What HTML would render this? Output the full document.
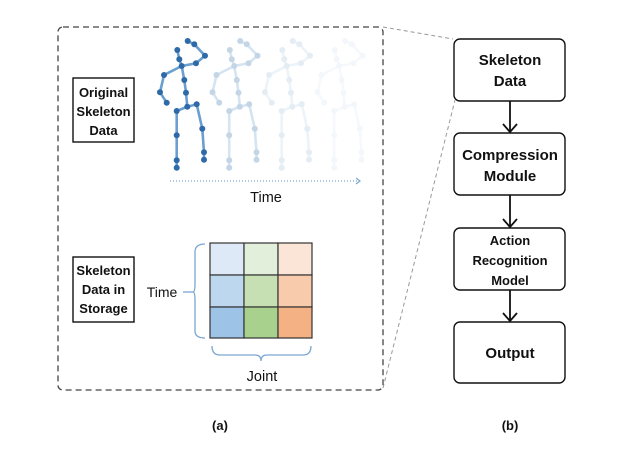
<!DOCTYPE html>
<html><head><meta charset="utf-8"><style>
body{margin:0;background:#fff;}
svg{display:block;font-family:"Liberation Sans",sans-serif;}
.b{font-weight:bold;fill:#111;}
</style></head><body>
<svg width="619" height="460" viewBox="0 0 619 460" xmlns="http://www.w3.org/2000/svg">
<defs>
<g id="sk">
<g stroke-width="2.6" stroke-linecap="round" fill="none">
<polyline points="187.7,41 194.3,44.3 205,55.7 196,63.3 181.7,66"/>
<polyline points="177.3,50 179.3,59.3 181.7,66 164,75 160,92.3 166.7,102.7"/>
<polyline points="181.7,66 184.3,80 186,92.7 187.3,106.7 196.7,104.3 202.3,128.7 204,152.3 204,159.7"/>
<polyline points="187.3,106.7 176.7,111 176.7,135.3 176.7,160.3 176.7,167.7"/>
</g>
<g stroke="none">
<circle cx="187.7" cy="41" r="3"/><circle cx="194.3" cy="44.3" r="3"/><circle cx="205" cy="55.7" r="3"/><circle cx="196" cy="63.3" r="3"/><circle cx="181.7" cy="66" r="3"/><circle cx="177.3" cy="50" r="3"/><circle cx="179.3" cy="59.3" r="3"/><circle cx="164" cy="75" r="3"/><circle cx="160" cy="92.3" r="3"/><circle cx="166.7" cy="102.7" r="3"/><circle cx="184.3" cy="80" r="3"/><circle cx="186" cy="92.7" r="3"/><circle cx="187.3" cy="106.7" r="3"/><circle cx="196.7" cy="104.3" r="3"/><circle cx="202.3" cy="128.7" r="3"/><circle cx="204" cy="152.3" r="3"/><circle cx="204" cy="159.7" r="3"/><circle cx="176.7" cy="111" r="3"/><circle cx="176.7" cy="135.3" r="3"/><circle cx="176.7" cy="160.3" r="3"/><circle cx="176.7" cy="167.7" r="3"/>
</g>
</g>
</defs>
<rect x="58" y="27" width="325" height="363" rx="5" fill="none" stroke="#444" stroke-width="1.3" stroke-dasharray="6,4"/>
<line x1="383" y1="27" x2="453" y2="39" stroke="#999" stroke-dasharray="4,3"/>
<line x1="383" y1="388" x2="455" y2="100" stroke="#999" stroke-dasharray="4,3"/>
<g stroke="#6a9fd0" fill="#2e6aa8"><use href="#sk"/></g>
<g stroke="#6a9fd0" fill="#2e6aa8" opacity="0.28" transform="translate(52.5,0)"><use href="#sk"/></g>
<g stroke="#6a9fd0" fill="#2e6aa8" opacity="0.12" transform="translate(105,0)"><use href="#sk"/></g>
<g stroke="#6a9fd0" fill="#2e6aa8" opacity="0.05" transform="translate(157.5,0)"><use href="#sk"/></g>
<line x1="170" y1="181" x2="358" y2="181" stroke="#7aa6d2" stroke-width="1.2" stroke-dasharray="1,2"/>
<polyline points="356,178 360,181 356,184" fill="none" stroke="#7aa6d2" stroke-width="1.2"/>
<text x="266" y="202" font-size="14.5" text-anchor="middle" fill="#111">Time</text>
<rect x="73" y="78" width="61" height="64" fill="#fff" stroke="#111" stroke-width="1.4"/>
<text class="b" font-size="13" text-anchor="middle"><tspan x="103.5" y="97">Original</tspan><tspan x="103.5" y="116">Skeleton</tspan><tspan x="103.5" y="135">Data</tspan></text>
<rect x="73" y="257" width="61" height="65" fill="#fff" stroke="#111" stroke-width="1.4"/>
<text class="b" font-size="13" text-anchor="middle"><tspan x="103.5" y="275">Skeleton</tspan><tspan x="103.5" y="294">Data in</tspan><tspan x="103.5" y="313">Storage</tspan></text>
<text x="162" y="297" font-size="14" text-anchor="middle" fill="#111">Time</text>
<line x1="183" y1="292" x2="193" y2="292" stroke="#7aa6d2" stroke-width="1.3"/>
<path d="M205,244 Q195,244 195,252 L195,284 Q195,292 193,292 Q195,292 195,300 L195,331 Q195,338 205,338" fill="none" stroke="#7aa6d2" stroke-width="1.3"/>
<path d="M212,346 Q212,355 220,355 L255,355 Q261,355 261,361 Q261,355 267,355 L303,355 Q311,355 311,346" fill="none" stroke="#7aa6d2" stroke-width="1.3"/>
<text x="262" y="381" font-size="14.5" text-anchor="middle" fill="#111">Joint</text>
<g stroke="#333" stroke-width="1.2">
<rect x="210" y="243" width="34" height="32" fill="#dde9f6"/><rect x="244" y="243" width="34" height="32" fill="#e2efda"/><rect x="278" y="243" width="34" height="32" fill="#fbe5d6"/>
<rect x="210" y="275" width="34" height="32" fill="#bdd7ee"/><rect x="244" y="275" width="34" height="32" fill="#c6e0b4"/><rect x="278" y="275" width="34" height="32" fill="#f8cbad"/>
<rect x="210" y="307" width="34" height="31" fill="#9dc3e6"/><rect x="244" y="307" width="34" height="31" fill="#a9d18e"/><rect x="278" y="307" width="34" height="31" fill="#f4b183"/>
</g>
<g fill="#fff" stroke="#111" stroke-width="1.4">
<rect x="454" y="39" width="111" height="62" rx="6"/>
<rect x="454" y="133" width="111" height="62" rx="6"/>
<rect x="454" y="228" width="111" height="62" rx="6"/>
<rect x="454" y="322" width="111" height="61" rx="6"/>
</g>
<g stroke="#111" stroke-width="1.8" fill="none">
<line x1="510" y1="101" x2="510" y2="132"/><polyline points="503,124 510,132 517,124"/>
<line x1="510" y1="195" x2="510" y2="227"/><polyline points="503,219 510,227 517,219"/>
<line x1="510" y1="290" x2="510" y2="321"/><polyline points="503,313 510,321 517,313"/>
</g>
<text class="b" font-size="15" text-anchor="middle"><tspan x="510" y="65">Skeleton</tspan><tspan x="510" y="86">Data</tspan></text>
<text class="b" font-size="15" text-anchor="middle"><tspan x="510" y="160">Compression</tspan><tspan x="510" y="181">Module</tspan></text>
<text class="b" font-size="13" text-anchor="middle"><tspan x="510" y="245">Action</tspan><tspan x="510" y="265">Recognition</tspan><tspan x="510" y="285">Model</tspan></text>
<text class="b" font-size="15" text-anchor="middle" x="510" y="358">Output</text>
<text x="220" y="430" font-size="13" font-weight="bold" text-anchor="middle" fill="#111">(a)</text>
<text x="510" y="430" font-size="13" font-weight="bold" text-anchor="middle" fill="#111">(b)</text>
</svg>
</body></html>
